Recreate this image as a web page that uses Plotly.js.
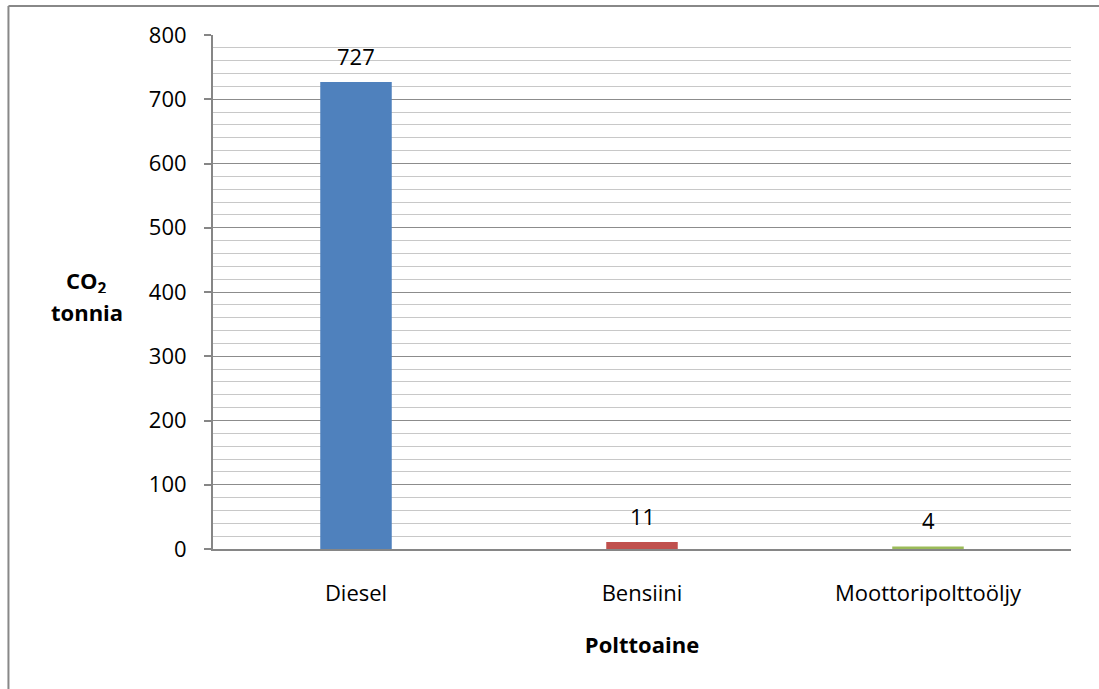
<!DOCTYPE html>
<html>
<head>
<meta charset="utf-8">
<script src="https://cdn.plot.ly/plotly-3.0.1.min.js"></script>
<style>
  html, body { margin: 0; padding: 0; background: #fff; }
  #chart { width: 1099px; height: 689px; }
</style>
</head>
<body>
<div id="chart"></div>
<script>
// Fuel types and their CO2 emissions (tonnes)
const fuels = ["Diesel", "Bensiini", "Moottoripolttoöljy"];
const co2Tonnes = [727, 11, 4];
const barColors = ["#4F81BD", "#C0504D", "#9BBB59"];
const yTicks = [0, 100, 200, 300, 400, 500, 600, 700, 800];

const fontFamily = "'Open Sans', sans-serif";
const fontSize = 22;
const textFont = { family: fontFamily, size: fontSize, color: "#000" };

const trace = {
  type: "bar",
  x: fuels,
  y: co2Tonnes,
  marker: { color: barColors },
  hoverinfo: "x+y"
};

// value labels above each bar
const valueLabels = fuels.map((f, i) => ({
  x: f,
  y: co2Tonnes[i],
  xref: "x",
  yref: "y",
  text: String(co2Tonnes[i]),
  showarrow: false,
  yanchor: "bottom",
  yshift: 9,
  font: textFont
}));

// y axis title drawn as two horizontal lines left of the tick labels
const yTitle = [
  { text: "<b>CO<sub>2</sub></b>", y: 0.5195 },
  { text: "<b>tonnia</b>", y: 0.4611 }
].map(t => ({
  xref: "paper", yref: "paper",
  x: -0.1469, y: t.y,
  xanchor: "center", yanchor: "middle",
  height: 22,
  text: t.text,
  showarrow: false,
  font: textFont
}));

const layout = {
  width: 1099,
  height: 689,
  margin: { l: 213, r: 28, t: 35, b: 140 },
  paper_bgcolor: "#fff",
  plot_bgcolor: "#fff",
  showlegend: false,
  bargap: 0.75,
  font: textFont,
  xaxis: {
    type: "category",
    showgrid: false,
    showline: true,
    linecolor: "#868686",
    linewidth: 2,
    ticks: "",
    ticklabelstandoff: 24,
    tickfont: textFont,
    title: {
      text: "<b>Polttoaine</b>",
      font: textFont,
      standoff: 31
    }
  },
  yaxis: {
    range: [0, 800],
    tickvals: yTicks,
    ticktext: yTicks.map(String),
    showline: true,
    linecolor: "#868686",
    linewidth: 2,
    ticks: "outside",
    ticklen: 7,
    tickcolor: "#868686",
    tickwidth: 2,
    ticklabelstandoff: 13,
    gridcolor: "#8c8c8c",
    gridwidth: 1,
    zeroline: false,
    minor: {
      dtick: 20,
      showgrid: true,
      gridcolor: "#c8c8c8",
      gridwidth: 1,
      ticks: ""
    },
    tickfont: textFont
  },
  annotations: valueLabels.concat(yTitle),
  shapes: [
    // outer chart frame (top and left edges)
    { type: "line", xref: "paper", yref: "paper", x0: -0.2384, x1: 1.05, y0: 1.0564, y1: 1.0564,
      line: { color: "#888", width: 2 } },
    { type: "line", xref: "paper", yref: "paper", x0: -0.2384, x1: -0.2384, y0: -0.30, y1: 1.0564,
      line: { color: "#888", width: 2 } }
  ]
};

Plotly.newPlot("chart", [trace], layout, { displayModeBar: false, staticPlot: true });
</script>
</body>
</html>
